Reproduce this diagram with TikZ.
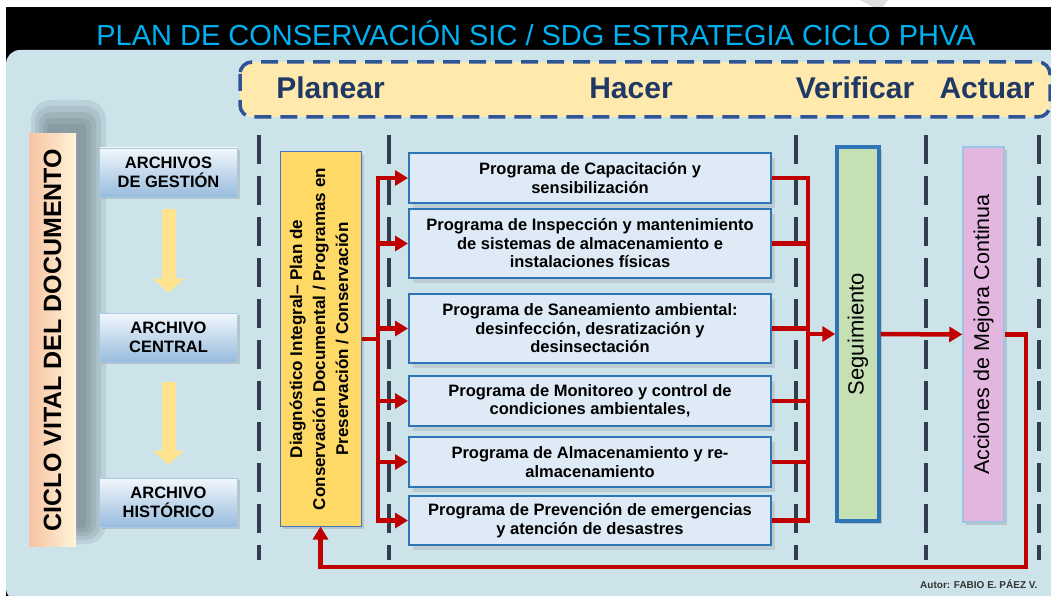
\documentclass[tikz,border=0pt]{standalone}
\usepackage{fontspec}
\setmainfont{Liberation Sans}
\usetikzlibrary{arrows.meta,shadows}

\definecolor{panelblue}{HTML}{CCE3EA}
\definecolor{titlecyan}{HTML}{00B0F0}
\definecolor{headfill}{HTML}{FFE9AC}
\definecolor{headdash}{HTML}{2F5496}
\definecolor{headtext}{HTML}{1F3864}
\definecolor{phasegray}{HTML}{323E4F}
\definecolor{diagfill}{HTML}{FFD966}
\definecolor{diagborder}{HTML}{4472C4}
\definecolor{progfill}{HTML}{DEEBF7}
\definecolor{progborder}{HTML}{2E75B6}
\definecolor{segfill}{HTML}{C5E0B4}
\definecolor{accfill}{HTML}{E3B6E0}
\definecolor{accborder}{HTML}{9DC3E6}
\definecolor{redc}{HTML}{C00000}
\definecolor{arrowyellow}{HTML}{FFE38F}
\definecolor{peach}{HTML}{F7C3A3}
\definecolor{cream}{HTML}{FFF4D8}
\definecolor{shadowgray}{HTML}{3A4650}

\tikzset{
  phaseline/.style={draw=phasegray, line width=3.8pt, dash pattern=on 29pt off 12pt},
  headlabel/.style={text=headtext, font=\fontsize{30}{36}\selectfont\bfseries},
  softshadow/.style={fill=shadowgray, opacity=.11, rounded corners=#1},
  archbox/.style={draw=white!60!progborder, line width=0.6pt, top color=white!60!progfill,
    bottom color=progfill!60!progborder, minimum width=138pt, minimum height=49pt, align=center,
    font=\fontsize{16.5}{19}\selectfont\bfseries,
    drop shadow={opacity=.3, shadow xshift=2pt, shadow yshift=-2pt}},
  progbox/.style={draw=progborder, line width=2pt, fill=progfill, minimum width=362pt, align=center,
    font=\fontsize{16.5}{18.5}\selectfont\bfseries,
    drop shadow={opacity=.22, shadow xshift=4pt, shadow yshift=-5pt}},
  tallbox/.style={minimum width=42pt, minimum height=374pt, inner sep=0pt,
    drop shadow={opacity=.3, shadow xshift=3pt, shadow yshift=-3pt}},
  redline/.style={draw=redc, line width=4.5pt},
  redarrow/.style={redline, -{Triangle[length=13pt,width=15pt]}},
  yellowarrow/.style={draw=arrowyellow, line width=14pt, -{Triangle[length=14pt,width=30pt]}},
}

\begin{document}
\begin{tikzpicture}[x=1pt,y=-1pt]
\useasboundingbox (0,0) rectangle (1051,596);
% frame and panel
\fill[white] (0,0) rectangle (1051,596);
\fill[gray!25] (860,0) -- (888,0) -- (882,8) -- (875,8) -- cycle;
\fill[black] (6,7) rectangle (1051,596);
\fill[panelblue, rounded corners=14pt] (6,50) rectangle (1080,602);
\node[text=titlecyan, font=\fontsize{29}{34}\selectfont] (title) at (536,33) {PLAN DE CONSERVACIÓN SIC / SDG ESTRATEGIA CICLO PHVA};

% phases
\draw[headdash, line width=3.5pt, fill=headfill, rounded corners=12pt, dash pattern=on 17pt off 9pt] (240,62) rectangle (1050,117);
\node[headlabel] (planear) at (330.5,88) {Planear};
\node[headlabel] (hacer) at (631,88) {Hacer};
\node[headlabel] (verificar) at (855,88) {Verificar};
\node[headlabel] (actuar) at (987,88) {Actuar};
\draw[phaseline] (259,135) -- (259,560);
\draw[phaseline] (389,135) -- (389,560);
\draw[phaseline] (796,135) -- (796,560);
\draw[phaseline] (926,135) -- (926,560);
\draw[phaseline] (1039,135) -- (1039,560);

% ciclo vital, with a soft shadow behind
\fill[softshadow=4pt] (47,124) rectangle (86,528);
\fill[softshadow=8pt] (43,118) rectangle (91,532);
\fill[softshadow=12pt] (39,112) rectangle (96,536);
\fill[softshadow=16pt] (35,106) rectangle (101,540);
\fill[softshadow=20pt] (31,100) rectangle (106,544);
\node[minimum width=47pt, minimum height=413pt, inner sep=0pt, left color=peach, right color=cream,
  font=\fontsize{25}{30}\selectfont\bfseries] (ciclo) at (52.5,340)
  {\rotatebox{90}{CICLO VITAL DEL DOCUMENTO}};
\node[archbox] (arch1) at (168.5,172.5) {ARCHIVOS\\DE GESTIÓN};
\node[archbox] (arch2) at (168.5,337.5) {ARCHIVO\\CENTRAL};
\node[archbox] (arch3) at (168.5,502.5) {ARCHIVO\\HISTÓRICO};
\draw[yellowarrow, shorten <=12pt, shorten >=20pt] (arch1.south) -- (arch2.north);
\draw[yellowarrow, shorten <=20pt, shorten >=13pt] (arch2.south) -- (arch3.north);

% planear
\node[tallbox, draw=diagborder, line width=1pt, fill=diagfill, minimum width=81pt,
  font=\fontsize{17}{23}\selectfont\bfseries] (diag) at (320.5,339)
  {\rotatebox{90}{\begin{tabular}{@{}c@{}}Diagnóstico Integral– Plan de\\Conservación Documental / Programas en\\Preservación / Conservación\end{tabular}}};

% hacer
\node[progbox, minimum height=50pt] (prog1) at (590,178) {Programa de Capacitación y\\sensibilización};
\node[progbox, minimum height=69pt] (prog2) at (590,243.5) {Programa de Inspección y mantenimiento\\de sistemas de almacenamiento e\\instalaciones físicas};
\node[progbox, minimum height=69pt] (prog3) at (590,328.5) {Programa de Saneamiento ambiental:\\desinfección, desratización y\\desinsectación};
\node[progbox, minimum height=50pt] (prog4) at (590,401) {Programa de Monitoreo y control de\\condiciones ambientales,};
\node[progbox, minimum height=50pt] (prog5) at (590,462) {Programa de Almacenamiento y re-\\almacenamiento};
\node[progbox, minimum height=49pt] (prog6) at (590,520.5) {Programa de Prevención de emergencias\\y atención de desastres};

% verificar, actuar
\node[tallbox, draw=progborder, line width=3.5pt, fill=segfill, font=\fontsize{22}{26}\selectfont] (seg) at (858,334)
  {\rotatebox{90}{Seguimiento}};
\node[tallbox, draw=accborder, line width=1.5pt, fill=accfill, minimum width=41pt, minimum height=375pt,
  font=\fontsize{21.5}{26}\selectfont] (acc) at (983.5,334.5) {\rotatebox{90}{Acciones de Mejora Continua}};

% red connectors
\coordinate (jl) at (378,339);
\coordinate (jr) at (808,333);
\coordinate (fb) at (1026,567);
\draw[redline] (diag.east) -- (jl);
\draw[redline, line cap=rect] (jl |- prog1) -- (jl |- prog6);
\draw[redarrow] (jl |- prog1) -- (prog1);
\draw[redarrow] (jl |- prog2) -- (prog2);
\draw[redarrow] (jl |- prog3) -- (prog3);
\draw[redarrow] (jl |- prog4) -- (prog4);
\draw[redarrow] (jl |- prog5) -- (prog5);
\draw[redarrow] (jl |- prog6) -- (prog6);
\draw[redline] (prog1.east) -- (jr |- prog1);
\draw[redline] (prog2.east) -- (jr |- prog2);
\draw[redline] (prog3.east) -- (jr |- prog3);
\draw[redline] (prog4.east) -- (jr |- prog4);
\draw[redline] (prog5.east) -- (jr |- prog5);
\draw[redline] (prog6.east) -- (jr |- prog6);
\draw[redline, line cap=rect] (jr |- prog1) -- (jr |- prog6);
\draw[redarrow] (jr |- seg) -- (seg);
\draw[redarrow] (seg) -- (acc);
\draw[redarrow] (acc.east) -| (fb) -| (diag.south);

\node[anchor=east, text=black!80, font=\fontsize{10}{12}\selectfont\bfseries] (autor) at (1041,584) {Autor: FABIO E. PÁEZ V.};
\end{tikzpicture}
\end{document}
